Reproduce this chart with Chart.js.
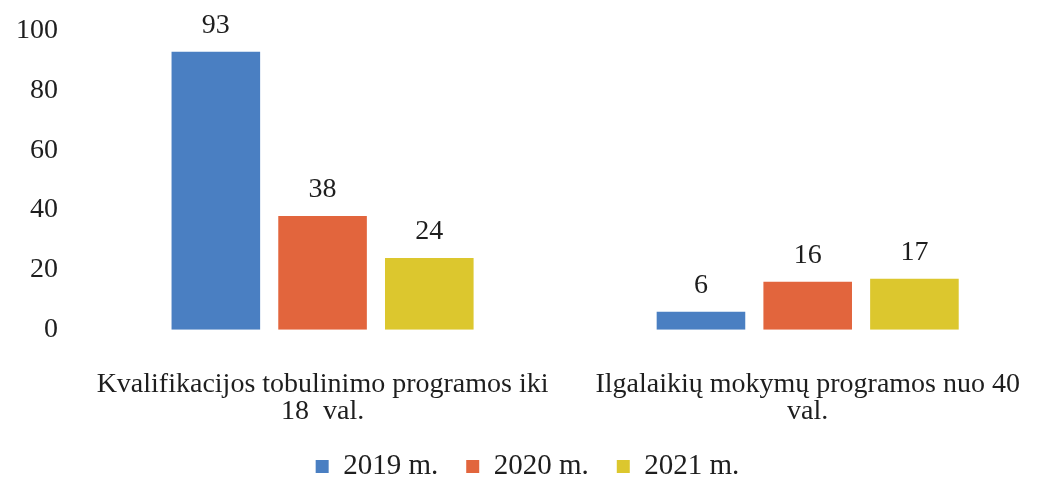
<!DOCTYPE html>
<html>
<head>
<meta charset="utf-8">
<script src="https://cdn.jsdelivr.net/npm/chart.js@4/dist/chart.umd.min.js"></script>
<style>
    html, body { margin: 0; padding: 0; background: #fff; }
    .container-canvas { width: 1053px; height: 488px; }
</style>
</head>
<body>
<div class="container-canvas">
    <canvas id="chart"></canvas>
</div>
<script>
var categories = [
    ["Kvalifikacijos tobulinimo programos iki", "18  val."],
    ["Ilgalaikių mokymų programos nuo 40", "val."]
];
var years = ["2019 m.", "2020 m.", "2021 m."];
var values2019 = [93, 6];
var values2020 = [38, 16];
var values2021 = [24, 17];
var yTicks = [0, 20, 40, 60, 80, 100];

var colors = ["#4a7fc2", "#e2653d", "#dcc72e"];

// draws the number above each bar
var valueLabels = {
    id: "valueLabels",
    afterDatasetsDraw(chart) {
        let ctx = chart.ctx;
        ctx.save();
        ctx.font = "28px 'Liberation Serif'";
        ctx.fillStyle = "#1e1e1e";
        ctx.textAlign = "center";
        ctx.textBaseline = "bottom";
        chart.data.datasets.forEach((ds, i) => {
            chart.getDatasetMeta(i).data.forEach((bar, j) => {
                ctx.fillText(ds.data[j], bar.x, bar.y - 12);
            });
        });
        ctx.restore();
    }
};

// keep the legend compact vertically (wide gaps between items, little space above/below)
var legendHeight = {
    id: "legendHeight",
    beforeInit(chart) {
        let fit = chart.legend.fit;
        chart.legend.fit = function () {
            fit.call(this);
            this.height = 64;
        };
    }
};

Chart.defaults.font.family = "'Liberation Serif', 'Times New Roman', serif";
Chart.defaults.font.size = 28;
Chart.defaults.color = "#1e1e1e";

var chart = new Chart(document.getElementById("chart").getContext("2d"), {
    type: "bar",
    data: {
        labels: categories,
        datasets: [
            { label: years[0], data: values2019, backgroundColor: colors[0] },
            { label: years[1], data: values2020, backgroundColor: colors[1] },
            { label: years[2], data: values2021, backgroundColor: colors[2] }
        ]
    },
    options: {
        responsive: true,
        maintainAspectRatio: false,
        animation: false,
        layout: { padding: { top: 13, left: 2, right: 0, bottom: 0 } },
        datasets: {
            bar: { categoryPercentage: 0.66, barPercentage: 0.83 }
        },
        scales: {
            x: {
                grid: { display: false },
                border: { display: false },
                ticks: { padding: 33, maxRotation: 0, autoSkip: false, font: { size: 28, lineHeight: 0.97 } },
                afterFit: (axis) => { axis.height -= 34; }
            },
            y: {
                min: 0,
                max: 100,
                afterBuildTicks: (axis) => { axis.ticks = yTicks.map(v => ({ value: v })); },
                grid: { display: false },
                border: { display: false },
                ticks: { padding: 14 }
            }
        },
        plugins: {
            legend: {
                position: "bottom",
                labels: { boxWidth: 13, boxHeight: 13, padding: 28, font: { size: 29 } }
            },
            tooltip: { enabled: false }
        }
    },
    plugins: [valueLabels, legendHeight]
});
</script>
</body>
</html>
